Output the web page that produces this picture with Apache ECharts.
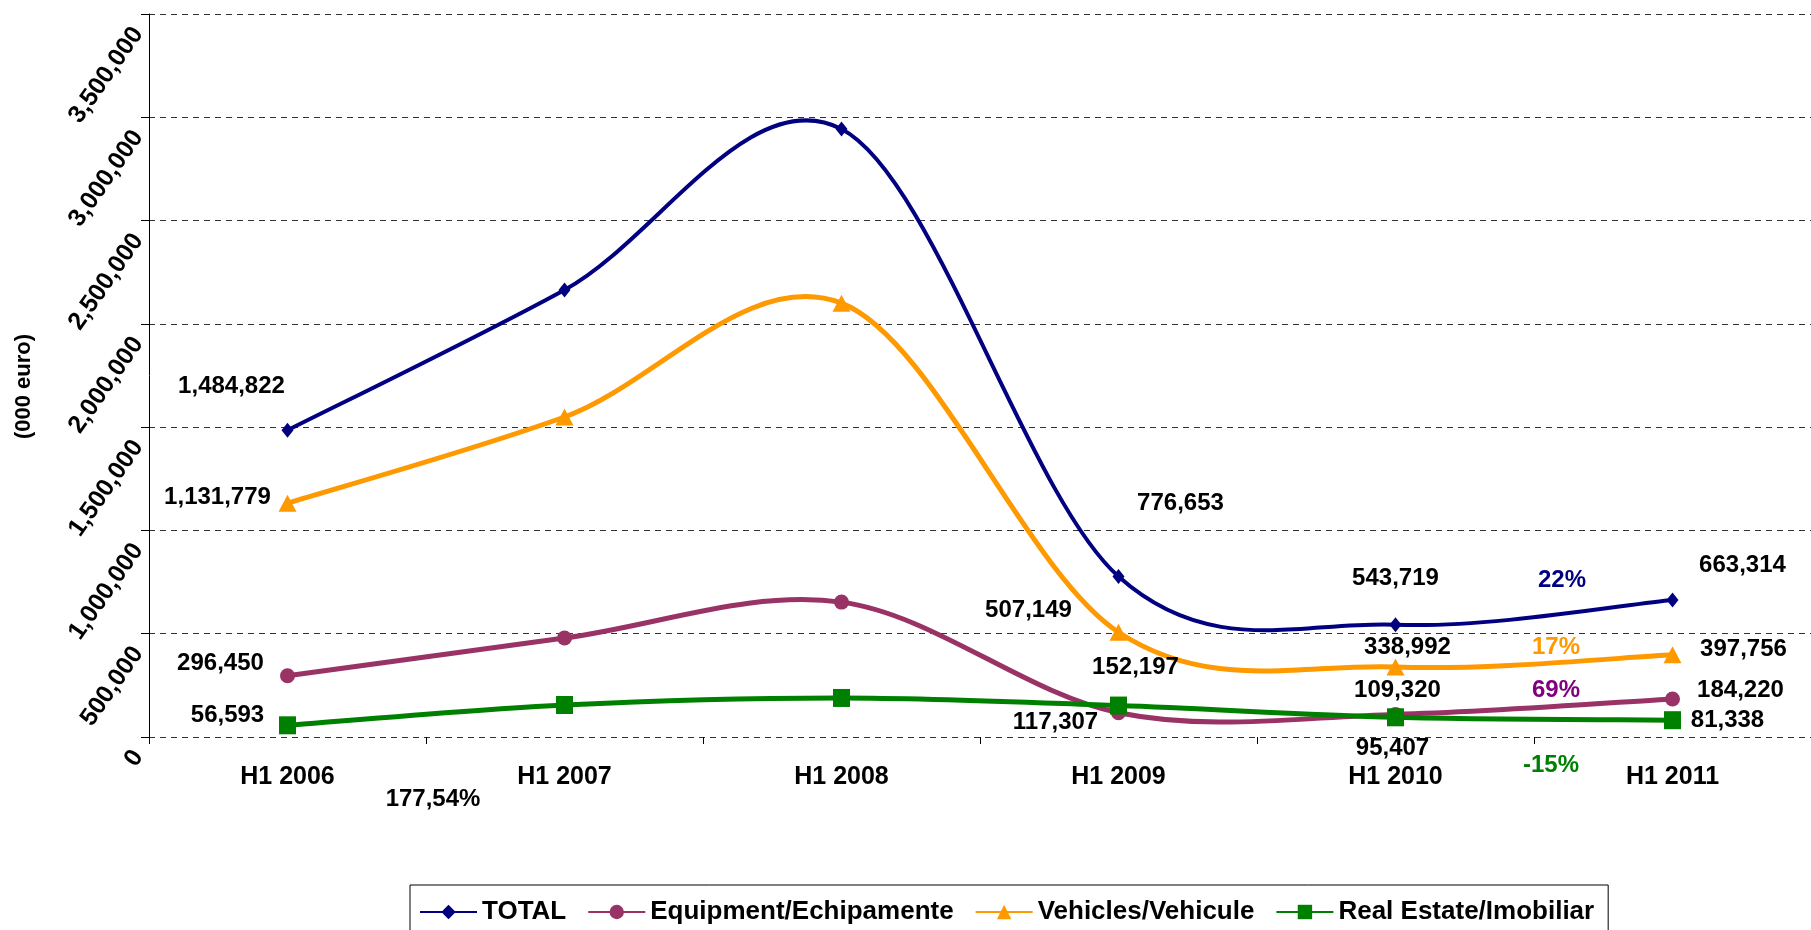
<!DOCTYPE html>
<html>
<head>
<meta charset="utf-8">
<title>Leasing H1 2006 - H1 2011</title>
<script src="https://cdn.jsdelivr.net/npm/echarts@6/dist/echarts.min.js"></script>
<style>
  html, body { margin: 0; padding: 0; background: #fff; }
  #chart { width: 1811px; height: 930px; }
</style>
</head>
<body>
<div id="chart"></div>
<script>
// values in 000 euro
const categories = ['H1 2006', 'H1 2007', 'H1 2008', 'H1 2009', 'H1 2010', 'H1 2011']
const seriesNames = ['TOTAL', 'Equipment/Echipamente', 'Vehicles/Vehicule', 'Real Estate/Imobiliar']
const totalValues = [1484822, 2164000, 2943000, 776653, 543719, 663314]
const equipmentValues = [296450, 479000, 653000, 117307, 109320, 184220]
const vehicleValues = [1131779, 1549000, 2100000, 507149, 338992, 397756]
const realEstateValues = [56593, 155000, 189000, 152197, 95407, 81338]
const yMax = 3500000
const yStep = 500000
const growthTotal = '22%'
const growthVehicles = '17%'
const growthEquipment = '69%'
const growthRealEstate = '-15%'
const growthFirstYear = '177,54%'

const FONT = '"Liberation Sans", Arial, sans-serif'
const fmt = v => v.toLocaleString('en-US')

const colors = {
  total: '#000080',
  equipment: '#993366',
  vehicles: '#FF9900',
  realEstate: '#008000'
}

// where each shown value label sits relative to its marker (px)
const labelOffsets = {
  total: { 0: [-56, -44], 3: [62, -73], 4: [0, -46], 5: [70, -35] },
  equipment: { 0: [-67, -12], 3: [-63, 10], 4: [2, -24], 5: [68, -9] },
  vehicles: { 0: [-70, -6], 3: [-90, -22], 4: [12, -20], 5: [71, -5] },
  realEstate: { 0: [-60, -10], 3: [17, -38], 4: [-3, 31], 5: [55, 0] }
}

function withLabels(values, offsets) {
  return values.map((v, i) => {
    if (!offsets[i]) return v
    return {
      value: v,
      label: { show: true, offset: offsets[i] }
    }
  })
}

// markers + labels; the line itself is drawn by curveSeries (Excel-like smoothing)
function markerSeries(name, values, offsets, color, symbol, symbolSize, width) {
  return {
    name: name,
    type: 'line',
    z: 3,
    symbol: symbol,
    symbolSize: symbolSize,
    showAllSymbol: true,
    data: withLabels(values, offsets),
    lineStyle: { color: color, width: width, opacity: 0 },
    itemStyle: { color: color },
    label: {
      show: false,
      position: 'inside',
      formatter: p => fmt(p.value),
      color: '#000',
      fontFamily: FONT,
      fontWeight: 'bold',
      fontSize: 24
    },
    emphasis: { disabled: true }
  }
}

// catmull-rom through the points, same shape excel uses for smoothed lines
function smoothPath(pts) {
  let d = 'M' + pts[0][0] + ' ' + pts[0][1]
  for (let i = 0; i < pts.length - 1; i++) {
    const p0 = pts[i - 1] || pts[i]
    const p1 = pts[i]
    const p2 = pts[i + 1]
    const p3 = pts[i + 2] || pts[i + 1]
    const c1x = p1[0] + (p2[0] - p0[0]) / 6
    const c1y = p1[1] + (p2[1] - p0[1]) / 6
    const c2x = p2[0] - (p3[0] - p1[0]) / 6
    const c2y = p2[1] - (p3[1] - p1[1]) / 6
    d += ' C' + c1x + ' ' + c1y + ' ' + c2x + ' ' + c2y + ' ' + p2[0] + ' ' + p2[1]
  }
  return d
}

function curveSeries(values, color, width) {
  return {
    type: 'custom',
    silent: true,
    z: 2,
    data: [[0, 0]],
    renderItem: (params, api) => {
      const pts = values.map((v, i) => api.coord([i, v]))
      return {
        type: 'path',
        shape: { pathData: smoothPath(pts) },
        style: { fill: 'none', stroke: color, lineWidth: width, lineJoin: 'round' }
      }
    }
  }
}

function growthText(text, x, y, color) {
  return {
    type: 'text',
    x: x,
    y: y,
    style: {
      text: text,
      fill: color,
      font: 'bold 24px ' + FONT,
      align: 'center',
      verticalAlign: 'middle'
    }
  }
}

const chart = echarts.init(document.getElementById('chart'))
chart.setOption({
  animation: false,
  backgroundColor: '#fff',
  grid: { left: 149, right: -13, top: 14, bottom: 193 },
  xAxis: {
    type: 'category',
    data: categories,
    boundaryGap: true,
    axisLine: { show: false },
    axisTick: { show: true, length: 7, lineStyle: { color: '#000' } },
    axisLabel: {
      margin: 28,
      color: '#000',
      fontFamily: FONT,
      fontWeight: 'bold',
      fontSize: 25
    }
  },
  yAxis: {
    type: 'value',
    min: 0,
    max: yMax,
    interval: yStep,
    name: '(000 euro)',
    nameLocation: 'middle',
    nameGap: 114,
    nameTextStyle: {
      color: '#000',
      fontFamily: FONT,
      fontWeight: 'bold',
      fontSize: 22,
      padding: [0, 22, 0, 0]
    },
    axisLine: { show: true, lineStyle: { color: '#000', width: 1 } },
    axisTick: { show: true, length: 8, lineStyle: { color: '#000' } },
    axisLabel: {
      rotate: 55,
      margin: 0,
      padding: [0, 19, 31, 0],
      color: '#000',
      fontFamily: FONT,
      fontWeight: 'bold',
      fontSize: 25,
      formatter: v => fmt(v)
    },
    splitLine: {
      show: true,
      lineStyle: { color: '#333', width: 1, type: [6, 5] }
    }
  },
  legend: {
    left: 410,
    top: 885,
    orient: 'horizontal',
    data: seriesNames,
    borderColor: '#000',
    borderWidth: 1,
    padding: [14, 14, 40, 9],
    itemWidth: 57,
    itemHeight: 18,
    itemGap: 21,
    selectedMode: false,
    lineStyle: { opacity: 1 },
    textStyle: {
      color: '#000',
      fontFamily: FONT,
      fontWeight: 'bold',
      fontSize: 26
    }
  },
  series: [
    curveSeries(totalValues, colors.total, 4),
    curveSeries(equipmentValues, colors.equipment, 5),
    curveSeries(vehicleValues, colors.vehicles, 5),
    curveSeries(realEstateValues, colors.realEstate, 5),
    markerSeries(seriesNames[0], totalValues, labelOffsets.total, colors.total, 'diamond', [12, 15], 4),
    markerSeries(seriesNames[1], equipmentValues, labelOffsets.equipment, colors.equipment, 'circle', 15, 5),
    markerSeries(seriesNames[2], vehicleValues, labelOffsets.vehicles, colors.vehicles, 'triangle', [18, 17], 5),
    markerSeries(seriesNames[3], realEstateValues, labelOffsets.realEstate, colors.realEstate, 'rect', [17, 18], 5)
  ],
  graphic: [
    growthText(growthFirstYear, 433, 799, '#000'),
    growthText(growthTotal, 1562, 580, colors.total),
    growthText(growthVehicles, 1556, 647, colors.vehicles),
    growthText(growthEquipment, 1556, 690, '#800080'),
    growthText(growthRealEstate, 1551, 765, colors.realEstate)
  ]
})
</script>
</body>
</html>
